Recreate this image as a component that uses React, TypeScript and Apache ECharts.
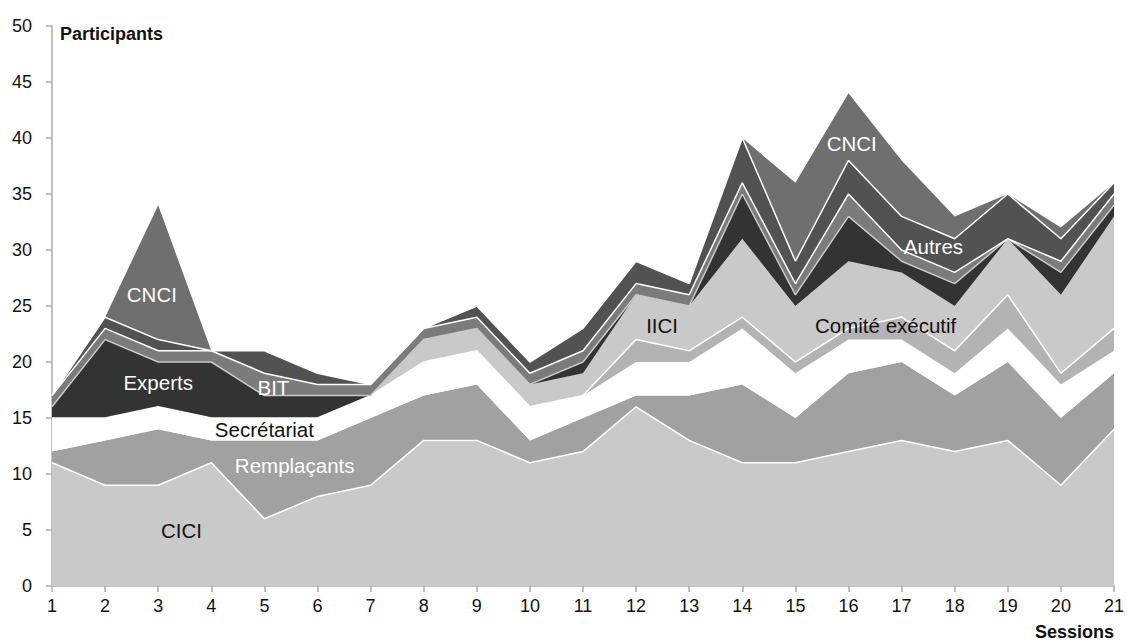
import React, { useEffect, useRef } from "react";
import * as echarts from "echarts";

const sessions = ["1","2","3","4","5","6","7","8","9","10","11","12","13","14","15","16","17","18","19","20","21"];
const cici = [11, 9, 9, 11, 6, 8, 9, 13, 13, 11, 12, 16, 13, 11, 11, 12, 13, 12, 13, 9, 14];
const remplacants = [1, 4, 5, 2, 7, 5, 6, 4, 5, 2, 3, 1, 4, 7, 4, 7, 7, 5, 7, 6, 5];
const secretariat = [3, 2, 2, 2, 2, 2, 2, 3, 3, 3, 2, 3, 3, 5, 4, 3, 2, 2, 3, 3, 2];
const comiteExecutif = [0, 0, 0, 0, 0, 0, 0, 0, 0, 0, 0, 2, 1, 1, 1, 1, 2, 2, 3, 1, 2];
const iici = [0, 0, 0, 0, 0, 0, 0, 2, 2, 2, 2, 4, 4, 7, 5, 6, 4, 4, 5, 7, 10];
const experts = [1, 7, 4, 5, 2, 2, 0, 0, 0, 0, 1, 0, 0, 4, 1, 4, 1, 2, 0, 2, 1];
const bit = [1, 1, 1, 1, 2, 1, 1, 1, 1, 1, 1, 1, 1, 1, 1, 2, 1, 1, 0, 1, 1];
const autres = [0, 1, 1, 0, 2, 1, 0, 0, 1, 1, 2, 2, 1, 4, 2, 3, 3, 3, 4, 2, 1];
const cnci = [0, 0, 12, 0, 0, 0, 0, 0, 0, 0, 0, 0, 0, 0, 7, 6, 5, 2, 0, 1, 0];

const yTicks = { min: 0, max: 50, interval: 5 };

// in-chart annotations (position in session index / value units)
const labelTexts = ["CICI", "Remplaçants", "Secrétariat", "Experts", "BIT", "CNCI", "IICI", "Comité exécutif", "Autres", "CNCI"];
const labelSessions = [3.44, 5.57, 5.0, 3.0, 5.17, 2.88, 12.49, 16.7, 17.6, 16.06];
const labelValues = [5.0, 10.8, 14.0, 18.2, 17.7, 26.0, 23.3, 23.3, 30.3, 39.5];
const labelColors = ["#111", "#fff", "#111", "#fff", "#fff", "#fff", "#111", "#111", "#fff", "#fff"];

const FONT = "'Liberation Sans', Arial, Helvetica, sans-serif";

export default function App() {
  const ref = useRef<HTMLDivElement>(null);
  useEffect(() => {
    if (!ref.current) return;
    const chart = echarts.init(ref.current, null, { renderer: "svg" });
    const mk = (name: string, data: number[], color: string, lineColor: string | null) => ({
      name,
      type: "line",
      stack: "total",
      data,
      symbol: "none",
      showSymbol: false,
      lineStyle: lineColor ? { color: lineColor, width: 1.5 } : { width: 0, opacity: 0 },
      areaStyle: { color, opacity: 1 },
      emphasis: { disabled: true },
    });
    const axisGray = "#ababab";
    chart.setOption({
      animation: false,
      textStyle: { fontFamily: FONT },
      grid: { left: 52, right: 11, top: 26, bottom: 58 },
      xAxis: {
        type: "category",
        data: sessions,
        boundaryGap: false,
        axisLine: { lineStyle: { color: axisGray, width: 1.5 } },
        axisTick: { show: true, length: 6, lineStyle: { color: axisGray, width: 1.5 } },
        axisLabel: { interval: 0, color: "#111", fontSize: 18, margin: 11, fontFamily: FONT },
      },
      yAxis: {
        type: "value",
        min: yTicks.min,
        max: yTicks.max,
        interval: yTicks.interval,
        splitLine: { show: false },
        axisLine: { show: true, lineStyle: { color: axisGray, width: 1.5 } },
        axisTick: { show: true, length: 6, lineStyle: { color: axisGray, width: 1.5 } },
        axisLabel: { color: "#111", fontSize: 18, margin: 20, fontFamily: FONT },
      },
      series: [
        mk("CICI", cici, "#c9c9c9", "#ffffff"),
        mk("Remplaçants", remplacants, "#a1a1a1", null),
        mk("Secrétariat", secretariat, "#ffffff", null),
        mk("Comité exécutif", comiteExecutif, "#b3b3b3", "#ffffff"),
        mk("IICI", iici, "#c9c9c9", null),
        mk("Experts", experts, "#333333", "#c8c8c8"),
        mk("BIT", bit, "#7b7b7b", "#ffffff"),
        mk("Autres", autres, "#525252", "#ffffff"),
        mk("CNCI", cnci, "#6f6f6f", null),
      ],
    });

    const xAt = (s: number) => {
      const i0 = Math.max(0, Math.min(sessions.length - 1, Math.floor(s - 1)));
      const i1 = Math.min(sessions.length - 1, i0 + 1);
      const p0 = chart.convertToPixel({ xAxisIndex: 0 }, sessions[i0]) as number;
      const p1 = chart.convertToPixel({ xAxisIndex: 0 }, sessions[i1]) as number;
      const f = s - 1 - i0;
      return p0 + (p1 - p0) * f;
    };
    const yAt = (v: number) => chart.convertToPixel({ yAxisIndex: 0 }, v) as number;

    const graphics: any[] = labelTexts.map((t, i) => ({
      type: "text",
      x: xAt(labelSessions[i]),
      y: yAt(labelValues[i]),
      z: 100,
      style: {
        text: t,
        fill: labelColors[i],
        font: `20.5px ${FONT}`,
        textAlign: "center",
        textVerticalAlign: "middle",
      },
    }));
    graphics.push({
      type: "text",
      x: 60,
      y: 34,
      style: { text: "Participants", fill: "#111", font: `bold 18px ${FONT}`, textAlign: "left", textVerticalAlign: "middle" },
    });
    graphics.push({
      type: "text",
      x: 1114,
      y: 632,
      style: { text: "Sessions", fill: "#111", font: `bold 18px ${FONT}`, textAlign: "right", textVerticalAlign: "middle" },
    });
    chart.setOption({ graphic: graphics });

    return () => chart.dispose();
  }, []);
  return (
    <div
      ref={ref}
      style={{ position: "absolute", left: 0, top: 0, width: 1127, height: 644, background: "#fff" }}
    />
  );
}
